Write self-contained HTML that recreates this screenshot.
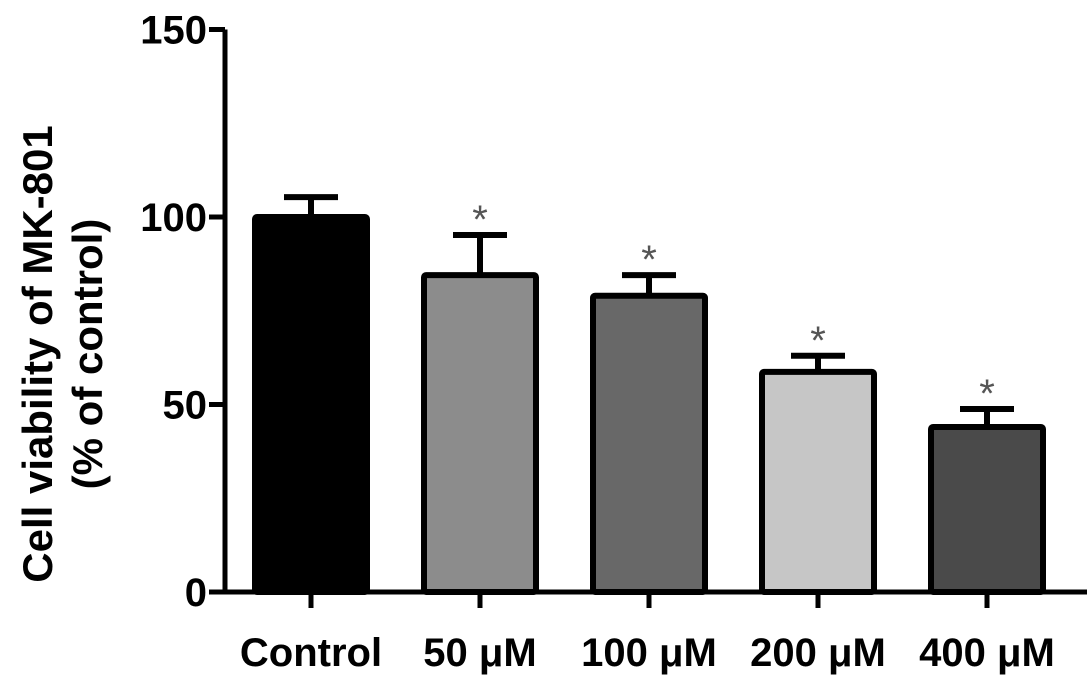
<!DOCTYPE html>
<html><head><meta charset="utf-8"><style>
html,body{margin:0;padding:0;background:#fff;}
svg{display:block;font-family:"Liberation Sans",Arial,sans-serif;}
</style></head><body>
<svg id="chart" width="1087" height="690" viewBox="0 0 1087 690" xmlns="http://www.w3.org/2000/svg"></svg>
<script>
const categories = ["Control", "50 μM", "100 μM", "200 μM", "400 μM"];
const values = [100, 84.5, 79, 58.7, 44];
const errors = [5.3, 10.7, 5.5, 4.3, 4.8];
const significant = [false, true, true, true, true];
const fills = ["#000000", "#8c8c8c", "#686868", "#c6c6c6", "#4a4a4a"];
const yTicks = [0, 50, 100, 150];

const svg = document.getElementById('chart');
const NS = 'http://www.w3.org/2000/svg';
const x0 = 225, yBase = 592, yTop = 29.5, yMax = 150;
const y = v => yBase - (v / yMax) * (yBase - yTop);
const step = 169, firstCenter = 311;
const xc = i => firstCenter + i * step;
const barW = 112;
function mk(tag, attrs) { const e = document.createElementNS(NS, tag); for (const k in attrs) e.setAttribute(k, attrs[k]); svg.appendChild(e); return e; }

categories.forEach((c, i) => {
  const cx = xc(i);
  const eb = mk('line', {x1: cx, x2: cx, y1: y(values[i]), y2: y(values[i] + errors[i]), stroke: '#000', 'stroke-width': 6});
  
  
  const cap = mk('line', {x1: cx - 27, x2: cx + 27, y1: y(values[i] + errors[i]), y2: y(values[i] + errors[i]), stroke: '#000', 'stroke-width': 6});
  
  
  const r = mk('rect', {x: cx - barW / 2, y: y(values[i]), width: barW, height: yBase - y(values[i]), fill: fills[i], stroke: '#000', 'stroke-width': 6, rx: 2});
  
  
  if (significant[i]) {
    const s = mk('text', {x: cx, y: y(values[i] + errors[i]) - 2, 'text-anchor': 'middle', 'font-size': 40, fill: '#555'});
    s.textContent = '*';
    
    
  }
  const t = mk('line', {x1: cx, x2: cx, y1: yBase, y2: yBase + 16, stroke: '#000', 'stroke-width': 5});
  
  
  const l = mk('text', {x: cx, y: 666, 'text-anchor': 'middle', 'font-size': 40, 'font-weight': 'bold'});
  l.textContent = c;
  
  
});

const ax = mk('path', {d: `M${x0},${yTop} V${yBase} H1087`, fill: 'none', stroke: '#000', 'stroke-width': 5});



yTicks.forEach(v => {
  const t = mk('line', {x1: x0 - 16, x2: x0, y1: y(v), y2: y(v), stroke: '#000', 'stroke-width': 5});
  
  
  const l = mk('text', {x: x0 - 18, y: y(v) + 14, 'text-anchor': 'end', 'font-size': 40, 'font-weight': 'bold'});
  l.textContent = v;
  
  
});

const g = mk('g', {transform: 'translate(52,354) rotate(-90)'});


[["Cell viability of MK-801", 0], ["(% of control)", 50]].forEach(([s, dy]) => {
  const t = document.createElementNS(NS, 'text');
  t.setAttribute('x', 0); t.setAttribute('y', dy);
  t.setAttribute('text-anchor', 'middle'); t.setAttribute('font-size', 42); t.setAttribute('font-weight', 'bold');
  t.textContent = s;
  
  
  g.appendChild(t);
});
</script>
</body></html>
